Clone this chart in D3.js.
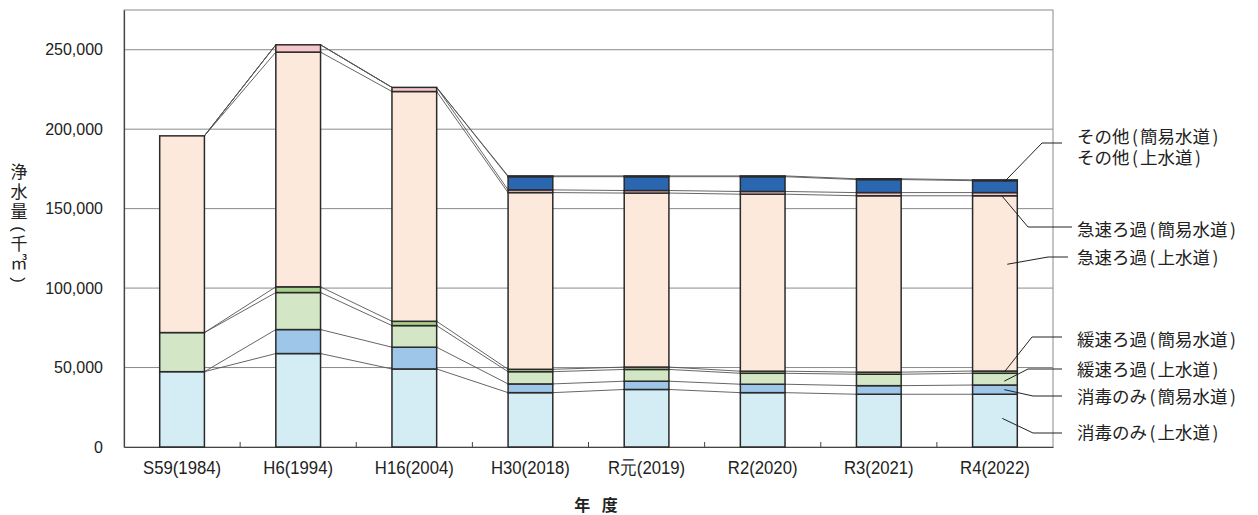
<!DOCTYPE html>
<html><head><meta charset="utf-8">
<script src="https://cdn.jsdelivr.net/npm/d3@7"></script>
<style>
html,body{margin:0;padding:0;background:#fff;}
svg{display:block;}
</style></head>
<body>
<svg id="chart" width="1258" height="515"></svg>
<script>
// ---- data (千㎥) ----
const categories = ["S59(1984)","H6(1994)","H16(2004)","H30(2018)","R元(2019)","R2(2020)","R3(2021)","R4(2022)"];
const seriesNames = ["消毒のみ(上水道)","消毒のみ(簡易水道)","緩速ろ過(上水道)","緩速ろ過(簡易水道)","急速ろ過(上水道)","急速ろ過(簡易水道)","その他(上水道)","その他(簡易水道)"];
const shodokuJou   = [47400, 58800, 49100, 34200, 36200, 34200, 33200, 33200];
const shodokuKan   = [    0, 15100, 13700,  5500,  5200,  5300,  5400,  5800];
const kansokuJou   = [24600, 23300, 13600,  7700,  7400,  6900,  7200,  7400];
const kansokuKan   = [    0,  3600,  2700,  1500,  1500,  1300,  1300,  1400];
const kyusokuJou   = [123800,147700,144600,111200,109500,111400,111000,110300];
const kyusokuKan   = [    0,  4600,  2600,  1700,  1600,  1700,  2000,  2000];
const sonotaJou    = [    0,     0,     0,  8300,  8700,  9300,  8200,  7500];
const sonotaKan    = [    0,     0,     0,   500,   500,   500,   500,   500];
const yTicks = [0, 50000, 100000, 150000, 200000, 250000];
const yMax = 275000;

const seriesValues = [shodokuJou, shodokuKan, kansokuJou, kansokuKan, kyusokuJou, kyusokuKan, sonotaJou, sonotaKan];
const colors = ["#d4ecf3","#9dc6e8","#d3e6c6","#a8d08d","#fde9db","#f7c6cb","#2b66b1","#1f4f8f"];

const rows = categories.map((c, i) => {
  const r = {cat: c};
  seriesNames.forEach((s, k) => r[s] = seriesValues[k][i]);
  return r;
});
const stacked = d3.stack().keys(seriesNames)(rows);

const svg = d3.select("#chart");
const L = 124, R = 1053, T = 10, B = 447;
const x = d3.scaleBand().domain(categories).range([L, R]).padding(0);
const y = d3.scaleLinear().domain([0, yMax]).range([B, T]);
const barW = x.bandwidth() * 0.385;
const bx = c => x(c) + x.bandwidth() / 2 - barW / 2;

const sansJP = "'Noto Sans CJK JP','Noto Sans',sans-serif";
const sansLat = "'Liberation Sans',Arial,sans-serif";

// frame
svg.append("rect").attr("x", L).attr("y", T).attr("width", R - L).attr("height", B - T)
  .attr("fill", "none").attr("stroke", "#8a8a8a").attr("stroke-width", 1);

// gridlines
svg.append("g").selectAll("line").data(yTicks.filter(d => d > 0)).join("line")
  .attr("x1", L).attr("x2", R).attr("y1", d => y(d)).attr("y2", d => y(d))
  .attr("stroke", "#8a8a8a").attr("stroke-width", 1);

// y axis
const yAxis = d3.axisLeft(y).tickValues(yTicks).tickSize(0).tickPadding(21)
  .tickFormat(d3.format(","));
const ya = svg.append("g").attr("transform", `translate(${L},0)`).call(yAxis);
ya.select(".domain").attr("stroke", "#444").attr("stroke-width", 1.2);
ya.selectAll("text").attr("font-family", sansLat).attr("font-size", 16).attr("fill", "#222");

// x axis
const xa = svg.append("g").attr("transform", `translate(0,${B})`)
  .call(d3.axisBottom(x).tickSize(0).tickPadding(0));
xa.select(".domain").attr("stroke", "#444").attr("stroke-width", 1.2);
xa.selectAll(".tick text").remove();
xa.selectAll(".tick").append("text")
  .attr("y", 27).attr("transform", "scale(0.88,1)")
  .attr("text-anchor", "middle").attr("font-family", sansLat).attr("font-size", 19).attr("fill", "#222")
  .text(d => d);
// boundary tick marks
svg.append("g").selectAll("line").data(categories.slice(1)).join("line")
  .attr("x1", d => x(d)).attr("x2", d => x(d)).attr("y1", B).attr("y2", B - 5)
  .attr("stroke", "#444").attr("stroke-width", 1);

// connector lines
const conn = svg.append("g");
stacked.forEach(layer => {
  for (let i = 0; i < categories.length - 1; i++) {
    const a = layer[i], b = layer[i + 1];
    conn.append("line")
      .attr("x1", bx(categories[i]) + barW).attr("y1", y(a[1]))
      .attr("x2", bx(categories[i + 1])).attr("y2", y(b[1]))
      .attr("stroke", "#555").attr("stroke-width", 0.9);
  }
});

// bars
const bars = svg.append("g");
stacked.forEach((layer, k) => {
  bars.append("g").selectAll("rect").data(layer.filter(d => d[1] - d[0] > 0)).join("rect")
    .attr("x", d => bx(d.data.cat)).attr("width", barW)
    .attr("y", d => y(d[1])).attr("height", d => y(d[0]) - y(d[1]))
    .attr("fill", colors[k]).attr("stroke", "#2a2a2a").attr("stroke-width", 1.5);
});

// legend labels with leader lines (pointing into R4 bar)
const last = categories.length - 1;
const lc = categories[last];
const barR = bx(lc) + barW;
const seg = k => stacked[k][last];
const leaders = [
  {keys: [7, 6], ty: [137, 158], p0: [barR - 13, y(seg(7)[1]) + 2], p1: [1042, 143], p2: [1062, 143]},
  {keys: [5], ty: [230], p0: [barR - 16, (y(seg(5)[1]) + y(seg(5)[0])) / 2 + 1], p1: [1028, 227], p2: [1072, 227]},
  {keys: [4], ty: [258], p0: [barR - 10, y(115000)], p1: [1048, 257], p2: [1068, 257]},
  {keys: [3], ty: [340], p0: [barR - 13, y(seg(3)[1]) + 1], p1: [1032, 337], p2: [1062, 337]},
  {keys: [2], ty: [370], p0: [barR - 13, (y(seg(2)[1]) + y(seg(2)[0])) / 2 + 2], p1: [1028, 369], p2: [1062, 369]},
  {keys: [1], ty: [397], p0: [barR - 13, (y(seg(1)[1]) + y(seg(1)[0])) / 2], p1: [1033, 396], p2: [1062, 396]},
  {keys: [0], ty: [433], p0: [barR - 15, y(18000)], p1: [1033, 433], p2: [1062, 433]}
];
const lg = svg.append("g");
leaders.forEach(l => {
  lg.append("polyline").attr("points", [l.p0, l.p1, l.p2].map(p => p.join(",")).join(" "))
    .attr("fill", "none").attr("stroke", "#222").attr("stroke-width", 1);
  l.keys.forEach((k, j) => {
    const tx = lg.append("text").attr("x", 1077).attr("y", l.ty[j]).attr("dy", "0.36em")
      .attr("font-family", sansJP).attr("font-size", 17.5).attr("fill", "#222");
    const parts = seriesNames[k].split(/([()])/).filter(s => s.length);
    let prevParen = false;
    parts.forEach(p => {
      const ts = tx.append("tspan").text(p);
      if (p === "(" || p === ")") { ts.attr("dx", 2.5); prevParen = true; }
      else { if (prevParen) ts.attr("dx", 2); prevParen = false; }
    });
  });
});

// y axis title (vertical)
const yTitle = [["浄",172,0],["水",192,0],["量",212,0],["(",229,1],["千",244,0],["㎥",263,0],[")",280,1]];
svg.append("g").selectAll("text").data(yTitle).join("text")
  .attr("x", 19).attr("y", d => d[1]).attr("dy", "0.36em").attr("text-anchor", "middle")
  .attr("transform", d => d[2] ? `rotate(90,19,${d[1]})` : null)
  .attr("font-family", d => d[2] ? sansLat : sansJP).attr("font-size", 17).attr("fill", "#222").text(d => d[0]);

// x axis title
svg.append("text").attr("x", 598).attr("y", 505).attr("dy", "0.36em").attr("text-anchor", "middle")
  .attr("font-family", sansJP).attr("font-size", 16).attr("font-weight", "bold").attr("fill", "#222")
  .attr("letter-spacing", 4).text("年 度");
</script>
</body></html>
